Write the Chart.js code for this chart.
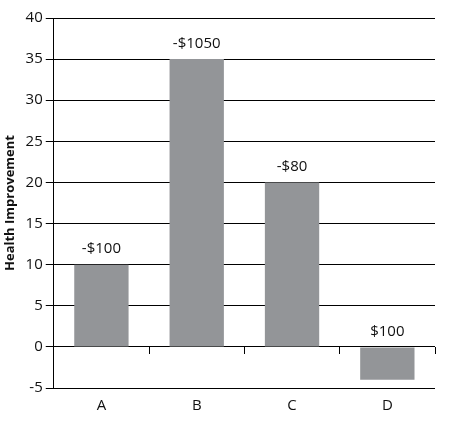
<!DOCTYPE html>
<html>
<head>
<meta charset="utf-8">
<script src="https://cdn.jsdelivr.net/npm/chart.js@4"></script>
<style>
  html, body { margin: 0; padding: 0; background: #fff; }
  #wrap { width: 449px; height: 428px; }
</style>
</head>
<body>
<div id="wrap"><canvas id="chart"></canvas></div>
<script>
const categories = ["A", "B", "C", "D"];
const improvement = [10, 35, 20, -4];
const costLabels = ["-$100", "-$1050", "-$80", "$100"];

// writes the cost text above each bar (or above the baseline for negative bars)
const costLabelPlugin = {
    id: 'costLabels',
    afterDatasetsDraw(chart) {
        const ctx = chart.ctx;
        const yScale = chart.scales.y;
        const meta = chart.getDatasetMeta(0);
        ctx.save();
        ctx.font = '15px "Open Sans", sans-serif';
        ctx.fillStyle = '#111';
        ctx.textAlign = 'center';
        ctx.textBaseline = 'bottom';
        meta.data.forEach(function (bar, i) {
            const top = yScale.getPixelForValue(Math.max(improvement[i], 0));
            ctx.fillText(costLabels[i], bar.x, top - 8);
        });
        ctx.restore();
    }
};

new Chart(document.getElementById('chart').getContext('2d'), {
    type: 'bar',
    data: {
        labels: categories,
        datasets: [{
            data: improvement,
            backgroundColor: '#939598',
            borderWidth: 0,
            categoryPercentage: 1,
            barPercentage: 0.57
        }]
    },
    options: {
        responsive: true,
        maintainAspectRatio: false,
        animation: false,
        layout: { padding: { top: 18, right: 14, left: 2, bottom: 12 } },
        plugins: {
            legend: { display: false },
            tooltip: { enabled: false }
        },
        scales: {
            x: {
                offset: true,
                grid: { display: false },
                border: { display: false },
                ticks: { color: '#111', font: { family: '"Open Sans", sans-serif', size: 15 }, padding: 1 }
            },
            x2: {
                type: 'category',
                position: { y: 0 },
                offset: true,
                grid: { offset: true, drawOnChartArea: false, drawTicks: true, tickLength: 7, color: '#000' },
                border: { display: false },
                ticks: { display: false }
            },
            y: {
                min: -5,
                max: 40,
                ticks: { stepSize: 5, color: '#111', font: { family: '"Open Sans", sans-serif', size: 15 }, padding: 3 },
                grid: { color: '#000', lineWidth: 1, tickLength: 8 },
                border: { color: '#000', width: 1 },
                title: {
                    display: true,
                    text: 'Health Improvement',
                    color: '#111',
                    font: { family: '"Open Sans", sans-serif', size: 13, weight: 'bold' },
                    padding: { top: 0, bottom: 5 }
                }
            }
        }
    },
    plugins: [costLabelPlugin]
});
</script>
</body>
</html>
